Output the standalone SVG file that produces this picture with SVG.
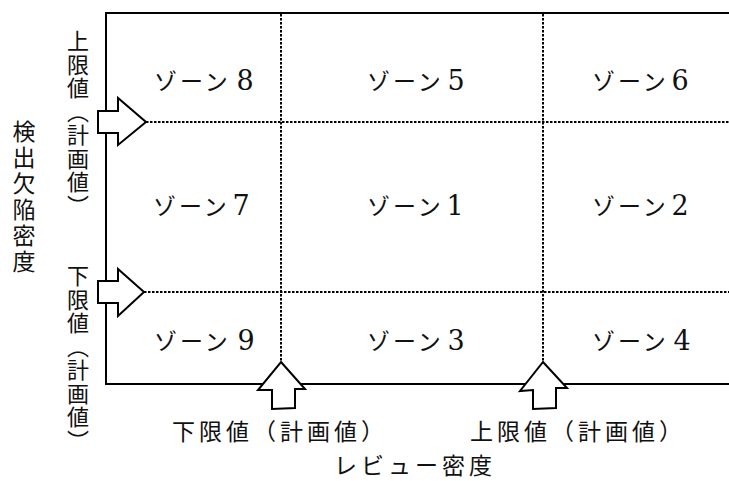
<svg xmlns="http://www.w3.org/2000/svg" width="729" height="481" viewBox="0 0 729 481">
<style>
.frame{stroke:#000;stroke-width:2;fill:none}
.dot{stroke:#000;stroke-width:2;stroke-dasharray:2.5 1.5;fill:none}
.arrow{fill:#fff;stroke:#000;stroke-width:2;stroke-linejoin:miter}
.jp{font-family:"Noto Sans CJK JP","Noto Sans CJK SC",sans-serif;fill:#111}
.zone{font-size:23px;letter-spacing:3px}
.num{font-family:"DejaVu Serif","Liberation Serif",serif;font-size:27px;letter-spacing:0;text-anchor:middle}
.lbl{font-size:23px;letter-spacing:4px}
.vlbl{font-size:22px;letter-spacing:1.5px;writing-mode:vertical-rl}
.vaxis{font-size:23px;letter-spacing:3px;writing-mode:vertical-rl}
</style>
<rect width="729" height="481" fill="#fff"/>
<g id="frame">
<path class="frame" d="M729,13 H106 V384 H729"/>
</g>
<g id="connectors">
<line class="dot" x1="281" y1="14" x2="281" y2="362"/>
<line class="dot" x1="543" y1="14" x2="543" y2="362"/>
<line class="dot" x1="146" y1="122" x2="729" y2="122"/>
<line class="dot" x1="144" y1="292" x2="729" y2="292"/>
<polygon class="arrow" points="98,111 118,111 118,98 146,122 118,145 118,133 98,133"/>
<polygon class="arrow" points="98,281 118,281 118,269 144,292 118,316 118,303 98,303"/>
<polygon class="arrow" points="281,362 305,389 295,389 295,408 272,409 272,390 258,390"/>
<polygon class="arrow" points="543,362 567,388 556,388 556,408 533,409 533,390 520,391"/>
</g>
<g id="zone8"><text class="jp zone" x="154" y="90">ゾーン<tspan class="num" x="245">8</tspan></text></g>
<g id="zone5"><text class="jp zone" x="367" y="90">ゾーン<tspan class="num" x="456">5</tspan></text></g>
<g id="zone6"><text class="jp zone" x="592" y="90">ゾーン<tspan class="num" x="680">6</tspan></text></g>
<g id="zone7"><text class="jp zone" x="153" y="215">ゾーン<tspan class="num" x="241">7</tspan></text></g>
<g id="zone1"><text class="jp zone" x="367" y="215">ゾーン<tspan class="num" x="455">1</tspan></text></g>
<g id="zone2"><text class="jp zone" x="592" y="215">ゾーン<tspan class="num" x="680">2</tspan></text></g>
<g id="zone9"><text class="jp zone" x="154" y="350">ゾーン<tspan class="num" x="246">9</tspan></text></g>
<g id="zone3"><text class="jp zone" x="367" y="350">ゾーン<tspan class="num" x="456">3</tspan></text></g>
<g id="zone4"><text class="jp zone" x="592" y="350">ゾーン<tspan class="num" x="682">4</tspan></text></g>
<g id="label-x-lower"><text class="jp lbl" x="172" y="440">下限値（計画値）</text></g>
<g id="label-x-upper"><text class="jp lbl" x="470" y="440">上限値（計画値）</text></g>
<g id="axis-x"><text class="jp lbl" x="334" y="474">レビュー密度</text></g>
<g id="axis-y"><text class="jp vaxis" x="24" y="120">検出欠陥密度</text></g>
<g id="label-y-upper"><text class="jp vlbl" x="78" y="30">上限値（計画値）</text></g>
<g id="label-y-lower"><text class="jp vlbl" x="78" y="265">下限値（計画値）</text></g>
</svg>
